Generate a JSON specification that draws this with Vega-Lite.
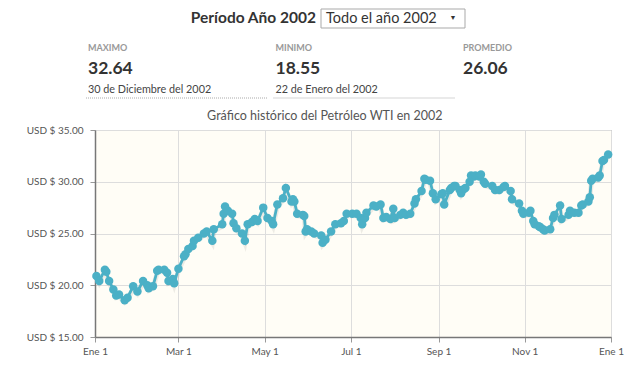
{
  "$schema": "https://vega.github.io/schema/vega-lite/v6.json",
  "padding": {"left": 25, "top": 8, "right": 0, "bottom": 0},
  "background": "white",
  "spacing": 10,
  "config": {"font": "Lato"},
  "datasets": {
    "stats": [
      {"col": "MINIMO", "row": "header", "kind": "title", "text": "Período Año 2002"},
      {"col": "MINIMO", "row": "header", "kind": "select", "text": "Todo el año 2002"},
      {"col": "MINIMO", "row": "header", "kind": "arrow", "text": "▼"},
      {"col": "MAXIMO", "row": "label", "kind": "label", "text": "MAXIMO"},
      {"col": "MINIMO", "row": "label", "kind": "label", "text": "MINIMO"},
      {"col": "PROMEDIO", "row": "label", "kind": "label", "text": "PROMEDIO"},
      {"col": "MAXIMO", "row": "value", "kind": "value", "text": "32.64"},
      {"col": "MINIMO", "row": "value", "kind": "value", "text": "18.55"},
      {"col": "PROMEDIO", "row": "value", "kind": "value", "text": "26.06"},
      {"col": "MAXIMO", "row": "date", "kind": "date", "text": "30 de Diciembre del 2002"},
      {"col": "MINIMO", "row": "date", "kind": "date", "text": "22 de Enero del 2002"}
    ],
    "oil": [
      {"date": "2002-01-02", "price": 20.9}, {"date": "2002-01-04", "price": 20.4}, {"date": "2002-01-08", "price": 21.5},
      {"date": "2002-01-09", "price": 21.3}, {"date": "2002-01-11", "price": 20.4}, {"date": "2002-01-14", "price": 19.6},
      {"date": "2002-01-16", "price": 19.0}, {"date": "2002-01-18", "price": 19.1}, {"date": "2002-01-22", "price": 18.55},
      {"date": "2002-01-24", "price": 18.8}, {"date": "2002-01-28", "price": 19.9}, {"date": "2002-01-31", "price": 19.4},
      {"date": "2002-02-04", "price": 20.4}, {"date": "2002-02-07", "price": 20.0}, {"date": "2002-02-08", "price": 19.7},
      {"date": "2002-02-11", "price": 19.9}, {"date": "2002-02-14", "price": 21.4}, {"date": "2002-02-15", "price": 21.5},
      {"date": "2002-02-19", "price": 21.5}, {"date": "2002-02-21", "price": 21.2}, {"date": "2002-02-22", "price": 20.4},
      {"date": "2002-02-25", "price": 20.6}, {"date": "2002-02-26", "price": 20.2}, {"date": "2002-03-01", "price": 21.6},
      {"date": "2002-03-05", "price": 22.8}, {"date": "2002-03-06", "price": 23.0}, {"date": "2002-03-08", "price": 23.5},
      {"date": "2002-03-11", "price": 23.8}, {"date": "2002-03-12", "price": 24.3}, {"date": "2002-03-15", "price": 24.6},
      {"date": "2002-03-19", "price": 25.0}, {"date": "2002-03-21", "price": 25.2}, {"date": "2002-03-25", "price": 24.3},
      {"date": "2002-03-26", "price": 25.4}, {"date": "2002-04-01", "price": 25.9}, {"date": "2002-04-02", "price": 26.9},
      {"date": "2002-04-03", "price": 27.6}, {"date": "2002-04-05", "price": 27.2}, {"date": "2002-04-08", "price": 26.9},
      {"date": "2002-04-09", "price": 26.0}, {"date": "2002-04-11", "price": 25.5}, {"date": "2002-04-15", "price": 25.0},
      {"date": "2002-04-17", "price": 24.3}, {"date": "2002-04-19", "price": 25.9}, {"date": "2002-04-22", "price": 26.1},
      {"date": "2002-04-24", "price": 26.4}, {"date": "2002-04-26", "price": 26.2}, {"date": "2002-04-30", "price": 27.5},
      {"date": "2002-05-03", "price": 26.5}, {"date": "2002-05-06", "price": 26.2}, {"date": "2002-05-07", "price": 25.9},
      {"date": "2002-05-10", "price": 27.8}, {"date": "2002-05-14", "price": 28.4}, {"date": "2002-05-16", "price": 29.4},
      {"date": "2002-05-20", "price": 28.1}, {"date": "2002-05-21", "price": 28.3}, {"date": "2002-05-22", "price": 28.1},
      {"date": "2002-05-24", "price": 26.9}, {"date": "2002-05-28", "price": 26.8}, {"date": "2002-05-29", "price": 26.7},
      {"date": "2002-05-30", "price": 25.2}, {"date": "2002-05-31", "price": 25.4}, {"date": "2002-06-03", "price": 25.2},
      {"date": "2002-06-05", "price": 25.0}, {"date": "2002-06-10", "price": 24.8}, {"date": "2002-06-11", "price": 24.1},
      {"date": "2002-06-13", "price": 24.4}, {"date": "2002-06-17", "price": 25.2}, {"date": "2002-06-20", "price": 25.9},
      {"date": "2002-06-24", "price": 26.0}, {"date": "2002-06-26", "price": 26.2}, {"date": "2002-06-28", "price": 26.9},
      {"date": "2002-07-02", "price": 26.9}, {"date": "2002-07-05", "price": 26.9}, {"date": "2002-07-08", "price": 26.5},
      {"date": "2002-07-09", "price": 25.9}, {"date": "2002-07-11", "price": 26.5}, {"date": "2002-07-12", "price": 27.0},
      {"date": "2002-07-17", "price": 27.7}, {"date": "2002-07-19", "price": 27.6}, {"date": "2002-07-22", "price": 27.8},
      {"date": "2002-07-24", "price": 26.5}, {"date": "2002-07-26", "price": 26.6}, {"date": "2002-07-29", "price": 26.4},
      {"date": "2002-07-31", "price": 27.4}, {"date": "2002-08-01", "price": 26.5}, {"date": "2002-08-05", "price": 26.8},
      {"date": "2002-08-07", "price": 27.0}, {"date": "2002-08-09", "price": 26.8}, {"date": "2002-08-12", "price": 26.9},
      {"date": "2002-08-15", "price": 27.9}, {"date": "2002-08-16", "price": 28.3}, {"date": "2002-08-20", "price": 29.1},
      {"date": "2002-08-22", "price": 30.3}, {"date": "2002-08-23", "price": 30.2}, {"date": "2002-08-26", "price": 30.1},
      {"date": "2002-08-28", "price": 28.9}, {"date": "2002-08-30", "price": 28.3}, {"date": "2002-09-03", "price": 28.8},
      {"date": "2002-09-04", "price": 28.9}, {"date": "2002-09-05", "price": 27.8}, {"date": "2002-09-09", "price": 29.2},
      {"date": "2002-09-10", "price": 29.4}, {"date": "2002-09-12", "price": 29.6}, {"date": "2002-09-13", "price": 29.6},
      {"date": "2002-09-16", "price": 29.2}, {"date": "2002-09-17", "price": 28.9}, {"date": "2002-09-19", "price": 29.3},
      {"date": "2002-09-20", "price": 29.4}, {"date": "2002-09-23", "price": 30.0}, {"date": "2002-09-24", "price": 30.6},
      {"date": "2002-09-26", "price": 30.5}, {"date": "2002-09-27", "price": 30.6}, {"date": "2002-09-30", "price": 30.5},
      {"date": "2002-10-01", "price": 30.7}, {"date": "2002-10-03", "price": 30.0}, {"date": "2002-10-04", "price": 29.8},
      {"date": "2002-10-09", "price": 29.6}, {"date": "2002-10-11", "price": 29.2}, {"date": "2002-10-14", "price": 29.2},
      {"date": "2002-10-17", "price": 29.5}, {"date": "2002-10-18", "price": 29.6}, {"date": "2002-10-22", "price": 29.1},
      {"date": "2002-10-23", "price": 28.3}, {"date": "2002-10-28", "price": 27.9}, {"date": "2002-10-30", "price": 27.2},
      {"date": "2002-10-31", "price": 26.9}, {"date": "2002-11-04", "price": 27.0}, {"date": "2002-11-05", "price": 27.2},
      {"date": "2002-11-07", "price": 26.2}, {"date": "2002-11-08", "price": 25.9}, {"date": "2002-11-11", "price": 25.7},
      {"date": "2002-11-12", "price": 25.6}, {"date": "2002-11-14", "price": 25.4}, {"date": "2002-11-15", "price": 25.3},
      {"date": "2002-11-19", "price": 25.4}, {"date": "2002-11-21", "price": 26.5}, {"date": "2002-11-22", "price": 26.8},
      {"date": "2002-11-26", "price": 27.7}, {"date": "2002-11-27", "price": 26.4}, {"date": "2002-12-02", "price": 26.8},
      {"date": "2002-12-03", "price": 27.2}, {"date": "2002-12-06", "price": 27.0}, {"date": "2002-12-09", "price": 27.0},
      {"date": "2002-12-11", "price": 27.7}, {"date": "2002-12-12", "price": 27.8}, {"date": "2002-12-16", "price": 28.1},
      {"date": "2002-12-17", "price": 28.5}, {"date": "2002-12-18", "price": 30.1}, {"date": "2002-12-19", "price": 30.3},
      {"date": "2002-12-23", "price": 30.4}, {"date": "2002-12-24", "price": 30.6}, {"date": "2002-12-26", "price": 32.0},
      {"date": "2002-12-27", "price": 32.1}, {"date": "2002-12-30", "price": 32.64}
    ]
  },
  "vconcat": [
    {
      "width": 375,
      "height": 63,
      "data": {"name": "stats"},
      "view": {"stroke": null},
      "encoding": {
        "x": {"field": "col", "type": "nominal", "scale": {"type": "point", "domain": ["MAXIMO", "MINIMO", "PROMEDIO"], "padding": 0}, "axis": null},
        "y": {"field": "row", "type": "nominal", "scale": {"type": "point", "domain": ["header", "label", "value", "date"], "padding": 0}, "axis": null}
      },
      "layer": [
        {"transform": [{"filter": "datum.kind === 'select'"}], "mark": {"type": "rect", "fill": "white", "stroke": "#a9a9a9", "strokeWidth": 1, "width": 144, "height": 19, "xOffset": 110.5, "yOffset": -8.5}},
        {"transform": [{"filter": "datum.kind === 'title'"}], "mark": {"type": "text", "align": "right", "baseline": "middle", "dx": 33.5, "dy": -9, "fontSize": 15.5, "fontWeight": "bold", "color": "#333"}, "encoding": {"text": {"field": "text"}}},
        {"transform": [{"filter": "datum.kind === 'select'"}], "mark": {"type": "text", "align": "left", "baseline": "middle", "dx": 43.5, "dy": -8, "fontSize": 14.5, "color": "#333"}, "encoding": {"text": {"field": "text"}}},
        {"transform": [{"filter": "datum.kind === 'arrow'"}], "mark": {"type": "text", "align": "center", "baseline": "middle", "dx": 170.5, "dy": -9, "fontSize": 7, "color": "#333"}, "encoding": {"text": {"field": "text"}}},
        {"transform": [{"filter": "datum.kind === 'label'"}], "mark": {"type": "text", "align": "left", "baseline": "middle", "dx": -7, "fontSize": 9, "fontWeight": "bold", "color": "#999"}, "encoding": {"text": {"field": "text"}}},
        {"transform": [{"filter": "datum.kind === 'value'"}], "mark": {"type": "text", "align": "left", "baseline": "middle", "dx": -7, "fontSize": 17.5, "fontWeight": "bold", "color": "#333"}, "encoding": {"text": {"field": "text"}}},
        {"transform": [{"filter": "datum.kind === 'date'"}], "mark": {"type": "text", "align": "left", "baseline": "middle", "dx": -7, "fontSize": 10.8, "color": "#444"}, "encoding": {"text": {"field": "text"}}},
        {"transform": [{"filter": "datum.kind === 'date'"}], "mark": {"type": "rule", "color": "#aaa", "strokeDash": [1, 1], "strokeWidth": 1, "xOffset": -9, "x2Offset": 172, "yOffset": 8, "y2Offset": 8}, "encoding": {"x2": {"field": "col"}}}
      ]
    },
    {
      "width": 516,
      "height": 207,
      "title": {"text": "Gráfico histórico del Petróleo WTI en 2002", "font": "Lato", "fontSize": 12.5, "fontWeight": "normal", "color": "#555", "anchor": "middle", "frame": "bounds", "offset": 3},
      "data": {"name": "oil"},
      "view": {"fill": "#fffdf6", "stroke": "#999", "strokeWidth": 1},
      "encoding": {
        "x": {
          "field": "date", "type": "temporal",
          "scale": {"type": "utc", "domain": [{"year": 2002, "month": 1, "date": 1, "utc": true}, {"year": 2003, "month": 1, "date": 1, "utc": true}]},
          "axis": {
            "title": null,
            "values": [
              {"year": 2002, "month": 1, "date": 1, "utc": true}, {"year": 2002, "month": 3, "date": 1, "utc": true},
              {"year": 2002, "month": 5, "date": 1, "utc": true}, {"year": 2002, "month": 7, "date": 1, "utc": true},
              {"year": 2002, "month": 9, "date": 1, "utc": true}, {"year": 2002, "month": 11, "date": 1, "utc": true},
              {"year": 2003, "month": 1, "date": 1, "utc": true}
            ],
            "labelExpr": "['Ene','Feb','Mar','Abr','May','Jun','Jul','Ago','Sep','Oct','Nov','Dic'][utcmonth(datum.value)] + ' 1'",
            "grid": true, "gridColor": "#ddd", "tickColor": "#999", "tickSize": 5,
            "domainColor": "#777", "domainWidth": 1.5,
            "labelFont": "Lato", "labelFontSize": 10, "labelColor": "#555", "labelPadding": 4,
            "labelFlush": false, "labelOverlap": false
          }
        },
        "y": {
          "field": "price", "type": "quantitative",
          "scale": {"domain": [15, 35], "nice": false, "zero": false},
          "axis": {
            "title": null, "values": [15, 20, 25, 30, 35],
            "labelExpr": "'USD $ ' + format(datum.value, '.2f')",
            "grid": true, "gridColor": "#ddd", "tickColor": "#999", "tickSize": 5,
            "domainColor": "#777", "domainWidth": 1.5,
            "labelFont": "Lato", "labelFontSize": 10, "labelColor": "#555", "labelPadding": 7,
            "minExtent": 65, "maxExtent": 65
          }
        }
      },
      "layer": [
        {"mark": {"type": "line", "color": "#000", "opacity": 0.07, "strokeWidth": 5, "yOffset": 2}},
        {"mark": {"type": "line", "color": "#4bb0c6", "strokeWidth": 2.8}},
        {"mark": {"type": "point", "filled": true, "color": "#4bb0c6", "size": 72, "opacity": 1}}
      ]
    }
  ]
}
